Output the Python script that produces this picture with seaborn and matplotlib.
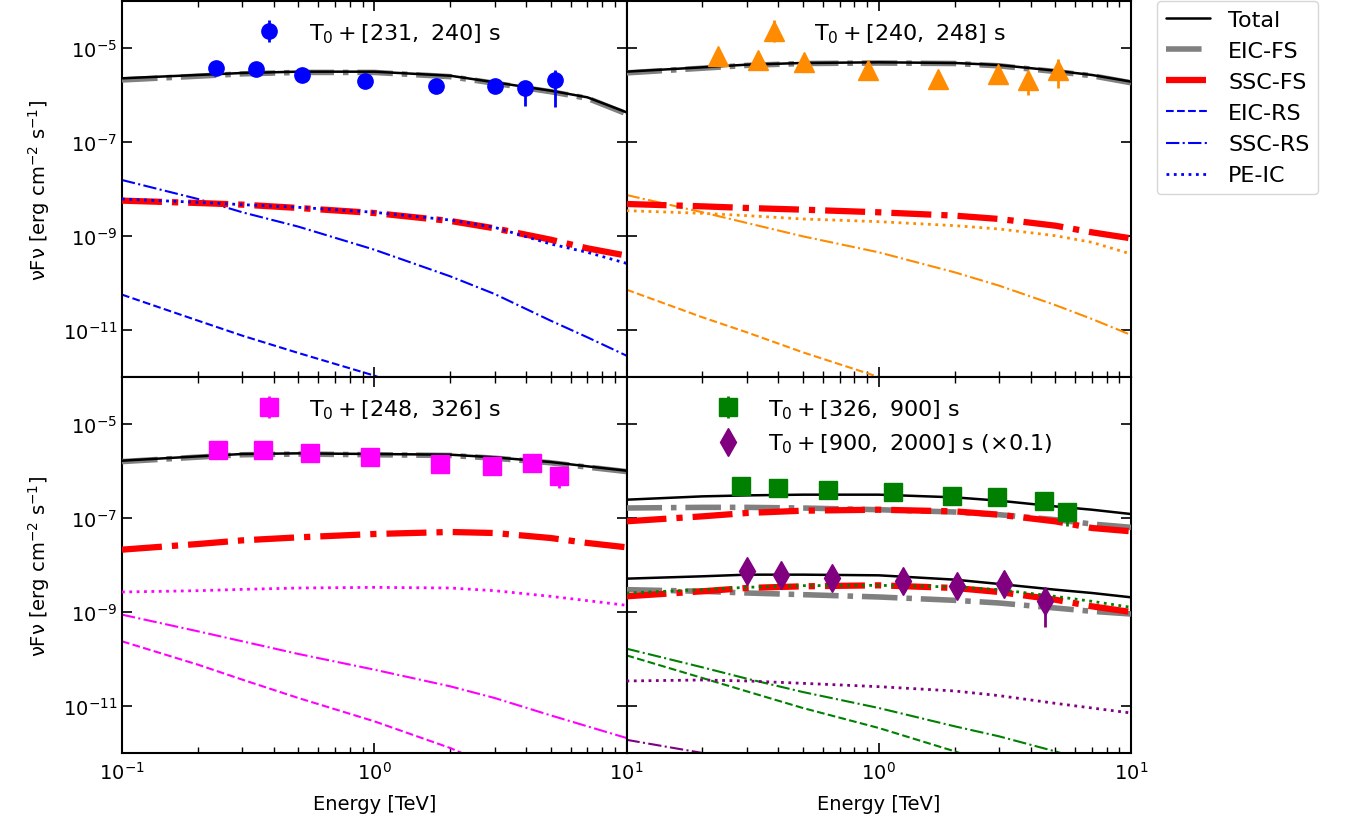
import matplotlib
matplotlib.use("Agg")
import matplotlib.pyplot as plt
import matplotlib.ticker as mticker
from matplotlib.lines import Line2D
import numpy as np
import pandas as pd
import seaborn as sns

# energy grid of the model curves [TeV]
energy = [0.1, 0.2, 0.3, 0.5, 1, 2, 3, 5, 7, 10]

# model curves, log10(nuFnu)
# panel a: T0+[231, 240] s
a_total = [-5.645, -5.574, -5.532, -5.504, -5.504, -5.590, -5.730, -5.908, -6.050, -6.369]
a_eic_fs = [-5.680, -5.600, -5.550, -5.520, -5.520, -5.610, -5.750, -5.930, -6.070, -6.400]
a_ssc_fs = [-8.248, -8.298, -8.333, -8.404, -8.511, -8.680, -8.837, -9.078, -9.262, -9.418]
a_eic_rs = [-10.248, -10.801, -11.121, -11.489, -11.970, -12.600, -13.000, -13.500, -13.900, -14.300]
a_ssc_rs = [-7.809, -8.213, -8.496, -8.801, -9.291, -9.858, -10.234, -10.801, -11.156, -11.546]
a_pe_ic = [-8.213, -8.284, -8.333, -8.390, -8.496, -8.660, -8.816, -9.170, -9.348, -9.582]

# panel b: T0+[240, 248] s
b_total = [-5.504, -5.411, -5.355, -5.319, -5.305, -5.319, -5.362, -5.482, -5.574, -5.716]
b_eic_fs = [-5.530, -5.430, -5.370, -5.330, -5.320, -5.330, -5.380, -5.500, -5.590, -5.740]
b_ssc_fs = [-8.319, -8.369, -8.404, -8.440, -8.496, -8.567, -8.638, -8.780, -8.922, -9.050]
b_eic_rs = [-10.142, -10.730, -11.050, -11.475, -12.000, -12.600, -13.000, -13.500, -13.900, -14.300]
b_ssc_rs = [-8.128, -8.496, -8.723, -9.007, -9.348, -9.773, -10.057, -10.468, -10.766, -11.106]
b_pe_ic = [-8.461, -8.518, -8.567, -8.638, -8.695, -8.780, -8.851, -8.993, -9.135, -9.383]

# panel c: T0+[248, 326] s
c_total = [-5.781, -5.689, -5.639, -5.625, -5.639, -5.653, -5.710, -5.809, -5.901, -5.994]
c_eic_fs = [-5.800, -5.705, -5.655, -5.640, -5.655, -5.670, -5.728, -5.825, -5.918, -6.012]
c_ssc_fs = [-7.674, -7.554, -7.476, -7.412, -7.341, -7.298, -7.320, -7.426, -7.532, -7.624]
c_eic_rs = [-9.624, -10.121, -10.440, -10.830, -11.326, -11.894, -12.300, -12.800, -13.200, -13.600]
c_ssc_rs = [-9.057, -9.411, -9.624, -9.893, -10.227, -10.582, -10.830, -11.199, -11.433, -11.681]
c_pe_ic = [-8.575, -8.547, -8.519, -8.490, -8.476, -8.490, -8.547, -8.667, -8.759, -8.858]

# panel d, first interval: T0+[326, 900] s
d1_total = [-6.611, -6.540, -6.519, -6.504, -6.504, -6.561, -6.632, -6.753, -6.824, -6.916]
d1_eic_fs = [-6.788, -6.774, -6.774, -6.788, -6.824, -6.873, -6.930, -7.036, -7.128, -7.199]
d1_ssc_fs = [-7.071, -6.965, -6.894, -6.845, -6.824, -6.859, -6.930, -7.071, -7.213, -7.284]
d1_eic_rs = [-9.923, -10.405, -10.689, -11.043, -11.468, -11.965, -12.300, -12.800, -13.200, -13.600]
d1_ssc_rs = [-9.781, -10.178, -10.419, -10.703, -11.043, -11.433, -11.646, -11.965, -12.200, -12.500]
d1_pe_ic = [-8.596, -8.525, -8.475, -8.440, -8.433, -8.468, -8.525, -8.667, -8.773, -8.901]

# panel d, second interval: T0+[900, 2000] s (x0.1)
d2_total = [-8.291, -8.241, -8.206, -8.206, -8.220, -8.312, -8.404, -8.525, -8.596, -8.688]
d2_eic_fs = [-8.525, -8.560, -8.596, -8.631, -8.681, -8.752, -8.809, -8.915, -8.986, -9.043]
d2_ssc_fs = [-8.667, -8.560, -8.489, -8.454, -8.433, -8.489, -8.575, -8.738, -8.880, -9.000]
d2_eic_rs = [-12.400, -12.900, -13.200, -13.600, -14.100, -14.600, -14.900, -15.300, -15.600, -15.900]
d2_ssc_rs = [-11.720, -12.000, -12.200, -12.450, -12.800, -13.200, -13.400, -13.700, -13.900, -14.200]
d2_pe_ic = [-10.468, -10.447, -10.468, -10.518, -10.589, -10.681, -10.780, -10.943, -11.043, -11.149]

# observed points [TeV], nuFnu and error bar ends
a_pts_e = [0.236, 0.340, 0.516, 0.923, 1.75, 3.01, 3.97, 5.22]
a_pts_f = [3.70e-6, 3.57e-6, 2.67e-6, 2.01e-6, 1.53e-6, 1.58e-6, 1.39e-6, 2.06e-6]
a_pts_lo = [3.30e-6, 3.20e-6, 2.40e-6, 1.80e-6, 1.37e-6, 1.38e-6, 5.75e-7, 5.50e-7]
a_pts_hi = [4.10e-6, 3.90e-6, 2.95e-6, 2.20e-6, 1.70e-6, 1.78e-6, 2.00e-6, 3.40e-6]

b_pts_e = [0.230, 0.331, 0.507, 0.903, 1.72, 2.96, 3.92, 5.15]
b_pts_f = [6.87e-6, 5.47e-6, 4.96e-6, 3.46e-6, 2.19e-6, 2.80e-6, 2.12e-6, 3.46e-6]
b_pts_lo = [6.00e-6, 4.80e-6, 4.40e-6, 3.00e-6, 1.90e-6, 2.45e-6, 1.00e-6, 1.39e-6]
b_pts_hi = [7.70e-6, 6.10e-6, 5.50e-6, 3.90e-6, 2.45e-6, 3.15e-6, 2.40e-6, 5.80e-6]

c_pts_e = [0.241, 0.363, 0.557, 0.960, 1.83, 2.94, 4.23, 5.39]
c_pts_f = [2.84e-6, 2.84e-6, 2.37e-6, 1.95e-6, 1.41e-6, 1.26e-6, 1.48e-6, 7.70e-7]
c_pts_lo = [2.50e-6, 2.50e-6, 2.10e-6, 1.72e-6, 1.24e-6, 1.11e-6, 1.30e-6, 4.40e-7]
c_pts_hi = [3.20e-6, 3.20e-6, 2.65e-6, 2.20e-6, 1.58e-6, 1.41e-6, 1.66e-6, 9.00e-7]

d1_pts_e = [0.285, 0.397, 0.629, 1.135, 1.96, 2.93, 4.52, 5.56]
d1_pts_f = [4.71e-7, 4.34e-7, 4.00e-7, 3.51e-7, 2.98e-7, 2.75e-7, 2.26e-7, 1.32e-7]
d1_pts_lo = [4.20e-7, 3.90e-7, 3.55e-7, 3.10e-7, 2.65e-7, 2.40e-7, 1.95e-7, 6.60e-8]
d1_pts_hi = [5.20e-7, 4.80e-7, 4.45e-7, 3.90e-7, 3.30e-7, 3.10e-7, 2.55e-7, 1.60e-7]

d2_pts_e = [0.301, 0.410, 0.653, 1.25, 2.04, 3.14, 4.55]
d2_pts_f = [7.31e-9, 6.21e-9, 5.27e-9, 4.48e-9, 3.51e-9, 3.93e-9, 1.68e-9]
d2_pts_lo = [6.50e-9, 5.50e-9, 4.70e-9, 4.00e-9, 3.10e-9, 3.50e-9, 4.70e-10]
d2_pts_hi = [8.20e-9, 7.00e-9, 5.90e-9, 5.00e-9, 3.95e-9, 4.40e-9, 2.75e-9]


sns.set_theme(style="ticks", rc={
    "xtick.direction": "in", "ytick.direction": "in",
    "xtick.top": True, "ytick.right": True,
    "xtick.major.size": 7, "ytick.major.size": 7,
    "xtick.minor.size": 4, "ytick.minor.size": 4,
    "xtick.major.width": 1.2, "ytick.major.width": 1.2,
    "xtick.minor.width": 1.0,
    "axes.linewidth": 1.5, "axes.edgecolor": "black",
    "xtick.color": "black", "ytick.color": "black",
    "text.color": "black", "axes.labelcolor": "black",
    "font.size": 14, "axes.labelsize": 14,
    "xtick.labelsize": 14, "ytick.labelsize": 14,
    "xtick.major.pad": 6, "axes.labelpad": 8,
})
plt.rcParams["font.family"] = ["DejaVu Sans"]
plt.rcParams["mathtext.fontset"] = "dejavusans"


def model_line(ax, log_vals, color, ls, lw, z):
    df = pd.DataFrame({"E": energy, "F": 10.0 ** np.array(log_vals)})
    sns.lineplot(data=df, x="E", y="F", ax=ax, color=color, linestyle=ls,
                 linewidth=lw, estimator=None, sort=False, zorder=z)


def draw_models(ax, total, eic_fs, ssc_fs, eic_rs, ssc_rs, pe_ic, color):
    model_line(ax, eic_rs, color, "--", 1.5, 2)
    model_line(ax, ssc_rs, color, "-.", 1.5, 2)
    model_line(ax, eic_fs, "grey", "-.", 4, 3)
    model_line(ax, ssc_fs, "red", "-.", 4.5, 4)
    model_line(ax, pe_ic, color, ":", 2, 5)
    model_line(ax, total, "black", "-", 1.8, 6)


def draw_points(ax, e, f, lo, hi, color, marker, ms, label):
    f = np.array(f)
    yerr = [f - np.array(lo), np.array(hi) - f]
    return ax.errorbar(e, f, yerr=yerr, fmt=marker, color=color, ms=ms,
                       elinewidth=2, capsize=0, zorder=8, label=label)


fig, axes = plt.subplots(2, 2, figsize=(13.45, 8.29), dpi=100)
fig.subplots_adjust(left=0.0907, right=0.8409, top=0.9976, bottom=0.0905, wspace=0, hspace=0)

for ax in axes.flat:
    ax.set_xscale("log")
    ax.set_yscale("log")

ax_a, ax_b, ax_c, ax_d = axes.flat

draw_models(ax_a, a_total, a_eic_fs, a_ssc_fs, a_eic_rs, a_ssc_rs, a_pe_ic, "blue")
h = draw_points(ax_a, a_pts_e, a_pts_f, a_pts_lo, a_pts_hi, "blue", "o", 11,
                r"$\rm T_0 + [231,\ 240]\ s$")
ax_a.legend(handles=[h], loc="upper center", frameon=False, fontsize=16)

draw_models(ax_b, b_total, b_eic_fs, b_ssc_fs, b_eic_rs, b_ssc_rs, b_pe_ic, "darkorange")
h = draw_points(ax_b, b_pts_e, b_pts_f, b_pts_lo, b_pts_hi, "darkorange", "^", 14,
                r"$\rm T_0 + [240,\ 248]\ s$")
ax_b.legend(handles=[h], loc="upper center", frameon=False, fontsize=16)

draw_models(ax_c, c_total, c_eic_fs, c_ssc_fs, c_eic_rs, c_ssc_rs, c_pe_ic, "magenta")
h = draw_points(ax_c, c_pts_e, c_pts_f, c_pts_lo, c_pts_hi, "magenta", "s", 13,
                r"$\rm T_0 + [248,\ 326]\ s$")
ax_c.legend(handles=[h], loc="upper center", frameon=False, fontsize=16)

draw_models(ax_d, d1_total, d1_eic_fs, d1_ssc_fs, d1_eic_rs, d1_ssc_rs, d1_pe_ic, "green")
draw_models(ax_d, d2_total, d2_eic_fs, d2_ssc_fs, d2_eic_rs, d2_ssc_rs, d2_pe_ic, "purple")
h1 = draw_points(ax_d, d1_pts_e, d1_pts_f, d1_pts_lo, d1_pts_hi, "green", "s", 13,
                 r"$\rm T_0 + [326,\ 900]\ s$")
h2 = draw_points(ax_d, d2_pts_e, d2_pts_f, d2_pts_lo, d2_pts_hi, "purple", "d", 14,
                 r"$\rm T_0 + [900,\ 2000]\ s\ (\times 0.1)$")
ax_d.legend(handles=[h1, h2], loc="upper center", frameon=False, fontsize=16)

for ax in axes.flat:
    ax.set_xlim(0.1, 10)
    ax.set_ylim(1e-12, 1e-4)
    ax.set_yticks([1e-11, 1e-9, 1e-7, 1e-5])
    ax.yaxis.set_minor_locator(mticker.NullLocator())
    ax.set_xticks([0.1, 1, 10])
    ax.xaxis.set_minor_locator(mticker.LogLocator(base=10, subs=np.arange(2, 10), numticks=20))
    ax.tick_params(which="both", direction="in", top=True, right=True)
    ax.set_xlabel("")
    ax.set_ylabel("")

for ax in (ax_a, ax_b):
    ax.tick_params(labelbottom=False)
for ax in (ax_b, ax_d):
    ax.tick_params(labelleft=False)

for ax in (ax_a, ax_c):
    ax.set_ylabel(r"νFν [erg cm$^{-2}$ s$^{-1}$]")
for ax in (ax_c, ax_d):
    ax.set_xlabel("Energy [TeV]")
ax_d.set_xticklabels(["", r"$\mathdefault{10^{0}}$", r"$\mathdefault{10^{1}}$"])

legend_lines = [
    Line2D([], [], color="black", ls="-", lw=1.8, label="Total"),
    Line2D([], [], color="grey", ls="-.", lw=4, label="EIC-FS"),
    Line2D([], [], color="red", ls="-.", lw=4.5, label="SSC-FS"),
    Line2D([], [], color="blue", ls="--", lw=1.5, label="EIC-RS"),
    Line2D([], [], color="blue", ls="-.", lw=1.5, label="SSC-RS"),
    Line2D([], [], color="blue", ls=":", lw=2, label="PE-IC"),
]
fig.legend(handles=legend_lines, loc="upper left", bbox_to_anchor=(1157 / 1345, 1 - 2 / 829),
           borderaxespad=0, fontsize=16, frameon=True)

fig.savefig("out.png", dpi=100)
